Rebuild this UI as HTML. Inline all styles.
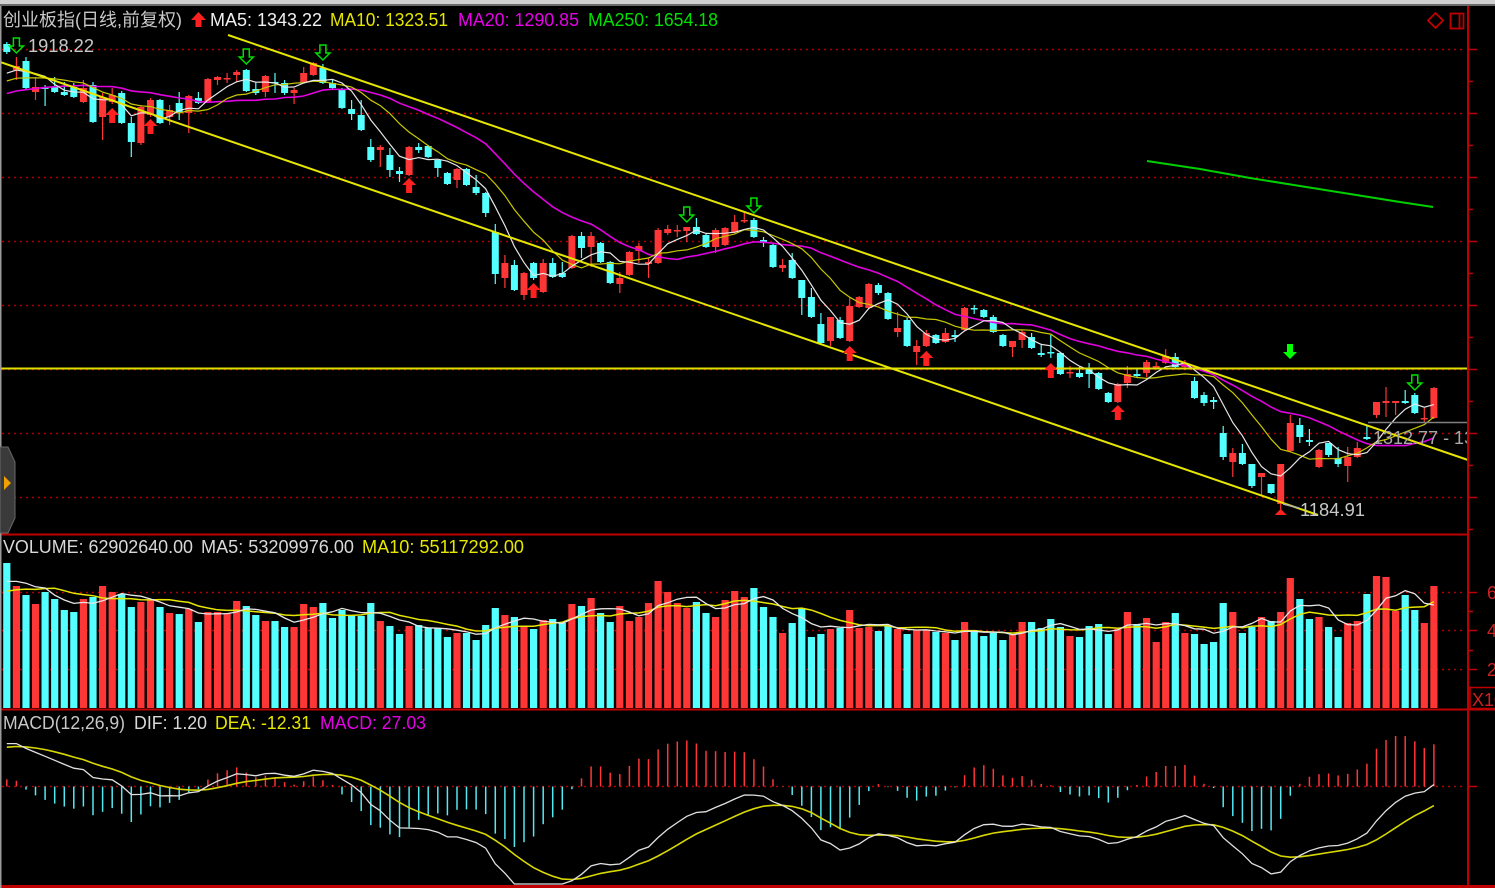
<!DOCTYPE html>
<html><head><meta charset="utf-8">
<style>
html,body{margin:0;padding:0;background:#000;width:1495px;height:888px;overflow:hidden}
svg{display:block}
text{font-family:"Liberation Sans","Noto Sans CJK SC",sans-serif;font-size:18px}
</style></head>
<body>
<svg id="s" width="1495" height="888" viewBox="0 0 1495 888" xmlns="http://www.w3.org/2000/svg">
<defs><clipPath id="cp"><rect x="0" y="0" width="1467" height="888"/></clipPath></defs>
<rect width="1495" height="888" fill="#000"/>
<rect x="0" y="0" width="1495" height="4" fill="#d0d0d0"/>
<rect x="0" y="4" width="1495" height="2" fill="#6a6a6a"/>
<g stroke="#b00000" stroke-width="1.5" stroke-dasharray="2 4">
<line x1="2" y1="49.5" x2="1466" y2="49.5"/>
<line x1="2" y1="113.5" x2="1466" y2="113.5"/>
<line x1="2" y1="177.5" x2="1466" y2="177.5"/>
<line x1="2" y1="241.5" x2="1466" y2="241.5"/>
<line x1="2" y1="305.5" x2="1466" y2="305.5"/>
<line x1="2" y1="369.5" x2="1466" y2="369.5"/>
<line x1="2" y1="433.5" x2="1466" y2="433.5"/>
<line x1="2" y1="497.5" x2="1466" y2="497.5"/>
<line x1="2" y1="592.5" x2="1466" y2="592.5"/>
<line x1="2" y1="630.5" x2="1466" y2="630.5"/>
<line x1="2" y1="669.5" x2="1466" y2="669.5"/>
<line x1="2" y1="786.5" x2="1466" y2="786.5"/>
</g>
<g id="vol"></g>
<g id="cand"></g>
<g id="mas" fill="none"></g>
<line x1="0" y1="368.5" x2="1468" y2="368.5" stroke="#e0e000" stroke-width="2"/>
<line x1="228" y1="35" x2="1468" y2="460" stroke="#e6e600" stroke-width="2"/>
<line x1="0" y1="62" x2="1318" y2="515" stroke="#e6e600" stroke-width="2"/>
<polyline points="1147,161 1200,169 1250,178 1300,186 1350,194 1400,202 1433,207" fill="none" stroke="#00d000" stroke-width="2"/>
<g id="macd"></g>
<g id="mk"></g>
<line x1="1368" y1="422.5" x2="1468" y2="422.5" stroke="#808080" stroke-width="1.5"/>
<!-- separators / axis -->
<line x1="0" y1="534.5" x2="1468" y2="534.5" stroke="#c00000" stroke-width="2"/>
<line x1="0" y1="709.5" x2="1495" y2="709.5" stroke="#c00000" stroke-width="2"/>
<line x1="0" y1="886.5" x2="1495" y2="886.5" stroke="#c00000" stroke-width="3"/>
<line x1="1468" y1="6" x2="1468" y2="888" stroke="#c00000" stroke-width="2"/>
<g stroke="#c00000" stroke-width="1.5">
<line x1="1468" y1="49.5" x2="1477" y2="49.5"/><line x1="1468" y1="81.5" x2="1473" y2="81.5"/>
<line x1="1468" y1="113.5" x2="1477" y2="113.5"/><line x1="1468" y1="145.5" x2="1473" y2="145.5"/>
<line x1="1468" y1="177.5" x2="1477" y2="177.5"/><line x1="1468" y1="209.5" x2="1473" y2="209.5"/>
<line x1="1468" y1="241.5" x2="1477" y2="241.5"/><line x1="1468" y1="273.5" x2="1473" y2="273.5"/>
<line x1="1468" y1="305.5" x2="1477" y2="305.5"/><line x1="1468" y1="337.5" x2="1473" y2="337.5"/>
<line x1="1468" y1="369.5" x2="1477" y2="369.5"/><line x1="1468" y1="401.5" x2="1473" y2="401.5"/>
<line x1="1468" y1="433.5" x2="1477" y2="433.5"/><line x1="1468" y1="465.5" x2="1473" y2="465.5"/>
<line x1="1468" y1="497.5" x2="1477" y2="497.5"/><line x1="1468" y1="529.5" x2="1473" y2="529.5"/>
<line x1="1468" y1="592.5" x2="1477" y2="592.5"/><line x1="1468" y1="611.5" x2="1473" y2="611.5"/>
<line x1="1468" y1="630.5" x2="1477" y2="630.5"/><line x1="1468" y1="650.5" x2="1473" y2="650.5"/>
<line x1="1468" y1="669.5" x2="1477" y2="669.5"/>
<line x1="1468" y1="786.5" x2="1477" y2="786.5"/>
</g>
<text x="1487" y="599" fill="#d02020">60</text>
<text x="1487" y="637" fill="#d02020">40</text>
<text x="1487" y="676" fill="#d02020">20</text>
<rect x="1470" y="687.5" width="30" height="21" fill="#000" stroke="#c00000" stroke-width="1.5"/>
<text x="1472" y="706" fill="#d02020">X10</text>
<!-- top right icons -->
<polygon points="1435.5,13 1443,20.5 1435.5,28 1428,20.5" fill="none" stroke="#c00000" stroke-width="1.8"/>
<rect x="1450.5" y="13.5" width="13" height="15" fill="none" stroke="#c00000" stroke-width="1.8"/>
<line x1="1459.5" y1="13.5" x2="1459.5" y2="28.5" stroke="#c00000" stroke-width="1.8"/>
<!-- left edge -->
<line x1="0.75" y1="6" x2="0.75" y2="888" stroke="#9a9a9a" stroke-width="1.5"/>
<polygon points="0,447 8,447 15,462 15,518 8,533 0,533" fill="#3a3a3a" stroke="#686868" stroke-width="1"/>
<polygon points="4,476 11,483 4,490" fill="#f0a000"/>
<!-- header texts -->
<text x="3" y="26" fill="#c8c8c8" textLength="179" lengthAdjust="spacingAndGlyphs">创业板指(日线,前复权)</text>
<polygon points="198.5,12 206,20 201.5,20 201.5,27 195.5,27 195.5,20 191,20" fill="#ff2020"/>
<text x="210" y="26" fill="#f0f0f0" textLength="112" lengthAdjust="spacingAndGlyphs">MA5: 1343.22</text>
<text x="330" y="26" fill="#e6e600" textLength="118" lengthAdjust="spacingAndGlyphs">MA10: 1323.51</text>
<text x="458" y="26" fill="#e600e6" textLength="121" lengthAdjust="spacingAndGlyphs">MA20: 1290.85</text>
<text x="588" y="26" fill="#00e000" textLength="130" lengthAdjust="spacingAndGlyphs">MA250: 1654.18</text>
<text x="28" y="52" fill="#c8c8c8" textLength="66" lengthAdjust="spacingAndGlyphs">1918.22</text>
<line x1="1283" y1="504" x2="1299" y2="508" stroke="#b0b0b0" stroke-width="1.5"/>
<text x="1300" y="516" fill="#c8c8c8" textLength="65" lengthAdjust="spacingAndGlyphs">1184.91</text>
<text x="1373" y="444" fill="#a8a8a8" clip-path="url(#cp)">1312.77 - 13</text>
<text x="3" y="553" fill="#d8d8d8" textLength="190" lengthAdjust="spacingAndGlyphs">VOLUME: 62902640.00</text>
<text x="201" y="553" fill="#d8d8d8" textLength="153" lengthAdjust="spacingAndGlyphs">MA5: 53209976.00</text>
<text x="362" y="553" fill="#e6e600" textLength="162" lengthAdjust="spacingAndGlyphs">MA10: 55117292.00</text>
<text x="3" y="729" fill="#c8c8c8" textLength="122" lengthAdjust="spacingAndGlyphs">MACD(12,26,9)</text>
<text x="134" y="729" fill="#d8d8d8" textLength="73" lengthAdjust="spacingAndGlyphs">DIF: 1.20</text>
<text x="215" y="729" fill="#e6e600" textLength="96" lengthAdjust="spacingAndGlyphs">DEA: -12.31</text>
<text x="320" y="729" fill="#e600e6" textLength="106" lengthAdjust="spacingAndGlyphs">MACD: 27.03</text>
</svg>
<script>
(function(){
const D=[
[0,44,52,42,54],[1,66,70,57,80],[0,61,88,57,89],[1,87,92,77,100],[0,87,89,85,106],
[0,87,92,77,93],[0,92,95,82,96],[0,87,97,83,98],[1,88,102,80,103],[0,85,122,82,123],
[1,97,117,93,140],[1,95,102,88,104],[0,93,123,91,124],[0,123,142,117,157],[1,107,143,105,145],
[1,100,115,98,117],[0,100,123,99,124],[1,110,117,105,125],[0,103,112,92,120],[1,96,113,95,133],
[0,98,103,92,104],[1,79,102,78,103],[1,77,80,76,85],[1,78,79,73,83],[1,72,75,70,82],
[0,70,91,69,92],[0,89,93,82,95],[1,76,92,75,97],[0,82,83,73,93],[0,83,93,80,95],
[1,90,93,88,104],[1,73,82,67,83],[1,63,75,62,76],[0,68,83,64,84],[0,83,88,80,89],
[0,89,108,88,109],[0,109,114,100,120],[0,115,130,100,131],[0,147,160,139,162],[1,147,150,145,167],
[0,155,170,148,177],[0,171,174,167,182],[1,147,175,146,176],[0,147,150,143,153],[0,146,157,145,158],
[0,160,168,160,177],[0,173,184,172,185],[1,169,180,168,188],[0,169,185,168,186],[0,187,193,175,195],
[0,193,213,192,217],[0,232,274,224,284],[1,263,278,255,288],[0,265,290,260,291],[1,273,295,272,300],
[0,263,278,262,280],[1,263,292,259,293],[0,263,277,258,278],[0,273,277,262,278],[1,236,268,235,269],
[0,236,248,232,258],[1,236,247,232,267],[0,243,262,242,263],[0,262,283,261,284],[1,278,284,272,293],
[1,252,275,251,276],[1,246,251,243,263],[1,262,264,258,278],[1,230,263,228,264],[1,229,233,225,235],
[1,230,231,225,237],[1,227,231,227,242],[0,227,234,218,235],[0,235,247,234,248],[1,230,247,228,253],
[1,228,245,227,246],[1,222,232,215,233],[1,220,221,213,223],[0,220,237,218,238],[0,240,243,237,247],
[0,245,267,244,268],[1,265,268,259,272],[0,260,278,253,279],[0,280,298,280,315],[0,297,317,288,318],
[0,324,343,313,344],[1,317,341,317,346],[0,320,338,317,339],[1,306,341,298,342],[1,297,307,296,308],
[1,284,308,283,309],[0,285,293,283,295],[0,293,319,292,320],[1,328,332,312,337],[0,320,346,318,347],
[1,346,352,340,365],[1,333,346,330,347],[0,335,343,334,344],[1,333,342,328,343],[0,335,337,330,342],
[1,308,330,307,331],[0,308,309,305,314],[0,310,317,309,318],[0,317,332,315,333],[0,335,346,334,347],
[1,341,347,341,357],[1,332,340,330,348],[0,337,348,333,349],[0,353,355,345,357],[0,352,353,335,358],
[0,353,374,352,375],[1,372,373,366,378],[0,373,377,367,378],[0,368,374,363,388],[0,373,389,372,390],
[0,393,402,392,403],[1,384,402,383,403],[1,374,383,366,388],[0,374,376,369,377],[1,362,373,360,377],
[1,366,367,362,369],[1,356,363,349,364],[0,357,367,353,368],[1,363,367,360,370],[0,381,398,377,399],
[0,395,403,392,406],[0,400,402,397,409],[0,433,457,426,460],[1,453,462,448,477],[0,453,464,444,465],
[0,464,486,464,488],[1,473,477,473,495],[0,484,493,484,494],[1,464,504,464,510],[1,423,451,415,452],
[0,425,437,418,443],[0,440,442,429,446],[1,450,467,449,468],[0,443,455,443,457],[0,458,464,447,467],
[1,457,466,447,482],[1,448,457,442,458],[0,437,439,425,440],[1,402,415,402,418],[1,401,403,387,417],
[1,401,403,401,415],[0,401,403,390,404],[0,395,413,393,414],[1,418,419,408,422],[1,388,418,387,419]];
const V=[563,586,595,604,592,599,610,612,599,597,
586,592,594,607,602,600,607,613,614,609,
622,612,612,613,601,606,615,621,621,627,
627,604,607,603,618,610,616,616,603,621,
626,634,626,625,628,628,637,633,633,640,
625,608,615,617,626,629,620,619,623,604,
606,598,613,622,606,621,617,603,581,592,
603,608,602,613,617,600,591,597,588,607,
617,633,623,608,637,634,629,628,610,628,
627,631,626,629,634,630,630,632,633,640,
622,630,636,633,640,635,622,622,628,619,
627,636,637,626,624,634,629,612,624,618,
642,622,613,633,634,644,642,603,612,633,
627,617,621,612,578,599,619,617,627,637,
623,621,594,576,577,611,595,610,623,586];
const RED='#ff3636',CY='#54ffff';
const X0=6.8,DX=9.578,N=D.length,W=60;
const xs=i=>X0+DX*i;
const f=v=>v.toFixed(1);
// candles
let h='';
for(let i=0;i<N;i++){
 const d=D[i],x=xs(i),c=d[0]?RED:CY;
 h+='<line x1="'+f(x)+'" y1="'+d[3]+'" x2="'+f(x)+'" y2="'+d[4]+'" stroke="'+c+'" stroke-width="1.2"/>';
 h+='<rect x="'+f(x-3.5)+'" y="'+d[1]+'" width="7" height="'+Math.max(d[2]-d[1],1.5)+'" fill="'+c+'"/>';
}
document.getElementById('cand').innerHTML=h;
// volume
h='';
for(let i=0;i<N;i++){
 const x=xs(i),c=D[i][0]?RED:CY;
 h+='<rect x="'+f(x-3.6)+'" y="'+V[i]+'" width="7.2" height="'+(708-V[i])+'" fill="'+c+'"/>';
}
document.getElementById('vol').innerHTML=h;
// closes with warm-up
const C=[];
for(let k=W;k>=1;k--)C.push(75+2.3*(k-1));
for(const d of D)C.push(d[0]?d[1]:d[2]);
function ma(A,n,j){let s=0;for(let q=j-n+1;q<=j;q++)s+=A[q];return s/n;}
function pth(P){return P.map((p,i)=>(i?'L':'M')+f(p[0])+' '+f(p[1])).join('');}
let m5=[],m10=[],m20=[];
for(let i=0;i<N;i++){const j=W+i;m5.push([xs(i),ma(C,5,j)]);m10.push([xs(i),ma(C,10,j)]);m20.push([xs(i),ma(C,20,j)]);}
// volume MAs
const VH=[];
for(let k=W;k>=1;k--)VH.push(k<=4?122:107);
for(const v of V)VH.push(708-v);
let v5=[],v10=[];
for(let i=0;i<N;i++){const j=W+i;v5.push([xs(i),708-ma(VH,5,j)]);v10.push([xs(i),708-ma(VH,10,j)]);}
h='';
h+='<path d="'+pth(m20)+'" stroke="#e000e0" stroke-width="1.6"/>';
h+='<path d="'+pth(m10)+'" stroke="#c8c800" stroke-width="1.2"/>';
h+='<path d="'+pth(m5)+'" stroke="#e6e6e6" stroke-width="1.2"/>';
h+='<path d="'+pth(v10)+'" stroke="#e6e600" stroke-width="1.5"/>';
h+='<path d="'+pth(v5)+'" stroke="#e6e6e6" stroke-width="1.3"/>';
document.getElementById('mas').innerHTML=h;
// MACD
const P=C.map(y=>-y*1.637);
let e12=P[0],e26=P[0],dea=0;const a12=2/13,a26=2/27,a9=2/10;
const DIF=[],DEA=[];
for(let j=0;j<P.length;j++){
 if(j>0){e12=e12+a12*(P[j]-e12);e26=e26+a26*(P[j]-e26);}
 const dif=e12-e26;dea=dea+a9*(dif-dea);
 DIF.push(dif);DEA.push(dea);
}
const SC=1.5,Z=786.5;
h='';
let pd=[],pe=[];
for(let i=0;i<N;i++){
 const j=W+i,x=xs(i);
 const m=2*(DIF[j]-DEA[j]);
 const y2=Math.max(712,Math.min(884,Z-m*SC));
 h+='<line x1="'+f(x)+'" y1="'+Z+'" x2="'+f(x)+'" y2="'+f(y2)+'" stroke="'+(m>=0?'#ff3636':'#54e8f0')+'" stroke-width="1.5"/>';
 pd.push([x,Math.max(712,Math.min(884,Z-DIF[j]*SC))]);
 pe.push([x,Math.max(712,Math.min(884,Z-DEA[j]*SC))]);
}
h+='<path d="'+pth(pe)+'" fill="none" stroke="#d8d800" stroke-width="1.6"/>';
h+='<path d="'+pth(pd)+'" fill="none" stroke="#e0e0e0" stroke-width="1.3"/>';
document.getElementById('macd').innerHTML=h;
// markers
h='';
function gdown(cx,t,solid){
 const pts=[[cx-3,t],[cx+3,t],[cx+3,t+8],[cx+7,t+8],[cx,t+15],[cx-7,t+8],[cx-3,t+8]];
 const s=pts.map(p=>f(p[0])+','+f(p[1])).join(' ');
 return solid?'<polygon points="'+s+'" fill="#00ff00"/>':'<polygon points="'+s+'" fill="none" stroke="#00e000" stroke-width="1.5"/>';
}
function rup(cx,t){
 const pts=[[cx,t],[cx+7,t+7],[cx+3,t+7],[cx+3,t+15],[cx-3,t+15],[cx-3,t+7],[cx-7,t+7]];
 return '<polygon points="'+pts.map(p=>f(p[0])+','+f(p[1])).join(' ')+'" fill="#ff2020"/>';
}
[[1,38],[25,49],[33,45],[71,207],[78,198],[147,375]].forEach(a=>{h+=gdown(xs(a[0]),a[1],false);});
h+=gdown(1290,344,true);
[[11,108],[15,119],[42,178],[55,283],[88,346],[96,351],[109,363],[116,405]].forEach(a=>{h+=rup(xs(a[0]),a[1]);});
h+='<polygon points="'+f(xs(133))+',509 '+f(xs(133)-6)+',515 '+f(xs(133)+6)+',515" fill="#ff2020"/>';
document.getElementById('mk').innerHTML=h;
})();
</script>
</body></html>
